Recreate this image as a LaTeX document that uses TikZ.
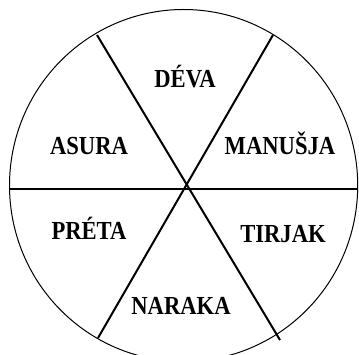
\documentclass[tikz,border=0pt]{standalone}
\usepackage{fontspec}
\setmainfont{Liberation Serif}
\newcommand{\condensed}[1]{\scalebox{0.87}[1]{#1}}
\begin{document}
\begin{tikzpicture}[x=1pt,y=-1pt,
  spoke/.style={line width=2pt},
  rim/.style={line width=1pt},
  lab/.style={font=\fontsize{26}{28}\selectfont\bfseries, inner sep=0pt, anchor=base}]
\useasboundingbox (0,0) rectangle (359,355);
\begin{scope}
\clip (0,0) rectangle (359,355);
\draw[rim] (183.6,185.5) ellipse [x radius=174.1, y radius=176];
\coordinate (c) at (184,189.5);
\coordinate (ul) at (97,35);
\coordinate (ur) at (273,35);
\coordinate (ll) at (98,338);
\coordinate (lr) at (280,340);
\coordinate (l) at (9.5,189.5);
\coordinate (r) at (358,189.5);
\draw[spoke] (l) -- (r);
\draw[spoke] (ul) -- (lr);
\draw[spoke] (ur) -- (ll);
\end{scope}
\node[lab] (deva) at (185,88) {\condensed{DÉVA}};
\node[lab] (manusja) at (280,155) {\condensed{MANUŠJA}};
\node[lab] (asura) at (89,155) {\condensed{ASURA}};
\node[lab] (preta) at (89,240) {\condensed{PRÉTA}};
\node[lab] (tirjak) at (283,243) {\condensed{TIRJAK}};
\node[lab] (naraka) at (181,315) {\condensed{NARAKA}};
\end{tikzpicture}
\end{document}
